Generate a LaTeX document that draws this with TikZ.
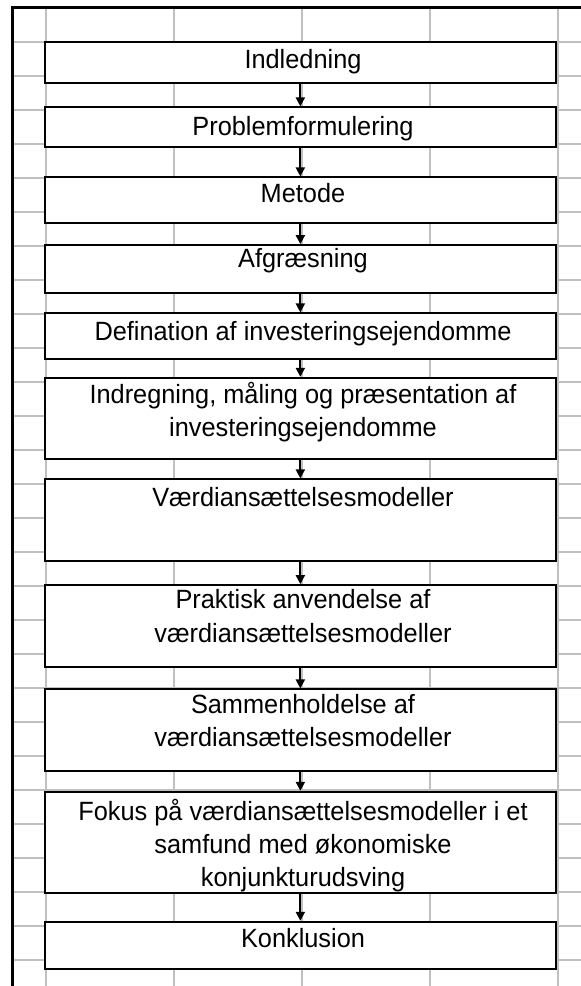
\documentclass[tikz,border=0pt]{standalone}
\usepackage{fontspec}
\setmainfont{Liberation Sans}
\newfontfamily\boxfont[FakeStretch=0.96]{Liberation Sans}
\usetikzlibrary{arrows.meta}
\definecolor{gridgray}{RGB}{192,192,192}
\begin{document}
\begin{tikzpicture}[x=1pt,y=-1pt,
  gridline/.style={draw=gridgray, line width=2pt},
  frameline/.style={draw=black, line width=3pt},
  stage/.style={draw=black, line width=1.8pt, fill=white, rectangle,
    inner sep=0pt, minimum width=511.3pt},
  caption/.style={anchor=base, inner sep=0pt,
    font=\boxfont\fontsize{26.4}{33.3}\selectfont},
  flow/.style={draw=black, line width=2pt,
    -{Triangle[width=9pt,length=9pt]}}]

\useasboundingbox (0,0) rectangle (581,986);

% worksheet grid behind the chart
\foreach \k in {0,...,27}
  \draw[gridline] (12,{41.7+34*\k}) -- (581,{41.7+34*\k});
\foreach \i in {0,...,4}
  \draw[gridline] ({45.7+128.15*\i},7) -- ({45.7+128.15*\i},986);

% outer frame (top and left edges)
\draw[frameline] (12,986) -- (12,7) -- (581,7);

% chapter boxes
\node[stage, minimum height=41pt]   (b1)  at (300.35,62.2)   {};
\node[stage, minimum height=39.4pt] (b2)  at (300.35,127)    {};
\node[stage, minimum height=45.4pt] (b3)  at (300.35,200)    {};
\node[stage, minimum height=47.7pt] (b4)  at (300.35,268.85) {};
\node[stage, minimum height=45.7pt] (b5)  at (300.35,336.15) {};
\node[stage, minimum height=81.3pt] (b6)  at (300.35,418.35) {};
\node[stage, minimum height=81.4pt] (b7)  at (300.35,520)    {};
\node[stage, minimum height=82.3pt] (b8)  at (300.35,626.15) {};
\node[stage, minimum height=81.7pt] (b9)  at (300.35,730.15) {};
\node[stage, minimum height=101pt]  (b10) at (300.35,842.2)  {};
\node[stage, minimum height=47.3pt] (b11) at (300.35,945.35) {};

% box texts (first-line baselines)
\node[caption] (t1)  at (303,68.5)  {Indledning};
\node[caption] (t2)  at (303,135.2) {Problemformulering};
\node[caption] (t3)  at (303,202.5) {Metode};
\node[caption] (t4)  at (303,267.7) {Afgræsning};
\node[caption] (t5)  at (303,340.5) {Defination af investeringsejendomme};
\node[caption] (t6)  at (303,403.5) {\begin{tabular}[t]{@{}c@{}}Indregning, måling og præsentation af\\investeringsejendomme\end{tabular}};
\node[caption] (t7)  at (303,506.2) {Værdiansættelsesmodeller};
\node[caption] (t8)  at (303,608.7) {\begin{tabular}[t]{@{}c@{}}Praktisk anvendelse af\\værdiansættelsesmodeller\end{tabular}};
\node[caption] (t9)  at (303,713.2) {\begin{tabular}[t]{@{}c@{}}Sammenholdelse af\\værdiansættelsesmodeller\end{tabular}};
\node[caption] (t10) at (303,820.2) {\begin{tabular}[t]{@{}c@{}}Fokus på værdiansættelsesmodeller i et\\samfund med økonomiske\\konjunkturudsving\end{tabular}};
\node[caption] (t11) at (303,947.7) {Konklusion};

% connectors
\foreach \a/\b in {b1/b2,b2/b3,b3/b4,b4/b5,b5/b6,b6/b7,b7/b8,b8/b9,b9/b10,b10/b11}
  \draw[flow] (\a.south) -- (\b.north);

\end{tikzpicture}
\end{document}
